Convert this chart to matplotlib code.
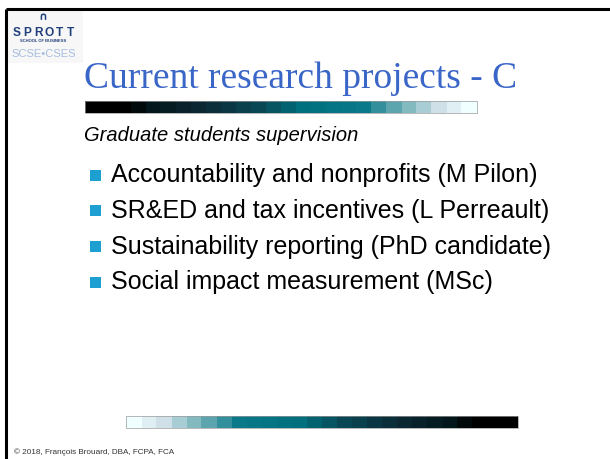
import matplotlib
matplotlib.use("Agg")
import matplotlib.pyplot as plt
import numpy as np
from matplotlib.colors import LinearSegmentedColormap
from matplotlib.patches import Rectangle

# ---- content ----
title = "Current research projects - C"
subtitle = "Graduate students supervision"
bullets = [
    "Accountability and nonprofits (M Pilon)",
    "SR&ED and tax incentives (L Perreault)",
    "Sustainability reporting (PhD candidate)",
    "Social impact measurement (MSc)",
]
footer = "\u00a9 2018, Fran\u00e7ois Brouard, DBA, FCPA, FCA"
logo_main = "SPROTT"
logo_sub = "SCHOOL OF BUSINESS"
logo_unit = "SCSE\u2022CSES"

# gradient stops (position, colour) of the decorative bar, dark -> light
bar_pos = [0.0, 0.10, 0.14, 0.30, 0.45, 0.56, 0.72, 0.78, 0.85, 0.92, 1.0]
bar_cols = ["#000000", "#000000", "#031418", "#0b2a36", "#0a4a58", "#00707f",
            "#0a7a8a", "#4a9aa5", "#8cc0c5", "#d0e0e8", "#f0ffff"]

W, H = 610, 459
fig = plt.figure(figsize=(W / 100, H / 100), dpi=100)
ax = fig.add_axes([0, 0, 1, 1])
ax.set_xlim(0, W)
ax.set_ylim(H, 0)
ax.axis("off")
fig.patch.set_facecolor("white")

# frame lines (top and left)
ax.plot([6, W], [9, 9], color="black", lw=2.2, solid_capstyle="butt")
ax.plot([6, 6], [9, H], color="black", lw=2.2, solid_capstyle="butt")

# logo
ax.add_patch(Rectangle((7.5, 10.5), 75, 52, facecolor="#f7f7f7", edgecolor="none"))
ax.text(43, 17, "\u2229", ha="center", va="center", fontsize=8, color="#1f3f7a",
        family="DejaVu Sans", fontweight="bold")
n = len(logo_main)
for i, ch in enumerate(logo_main):
    ax.text(11 + 65 / (2 * n) * (2 * i + 1), 33, ch, ha="center", va="center",
            fontsize=8.6, color="#1f3f7a", family="Liberation Sans", fontweight="bold")
ax.text(43.5, 41, logo_sub, ha="center", va="center", fontsize=3.0, color="#1f3f7a",
        family="Liberation Sans", fontweight="bold")
ax.text(43.5, 54, logo_unit, ha="center", va="center", fontsize=8.0, color="#a6bde0",
        family="Liberation Sans")

# title
ax.text(84, 88, title, ha="left", va="baseline", fontsize=27, color="#3a66c8",
        family="Liberation Serif")

# gradient bars
cmap = LinearSegmentedColormap.from_list("bar", list(zip(bar_pos, bar_cols)), N=26)
grad = np.linspace(0, 1, 400).reshape(1, -1)
ax.imshow(grad, cmap=cmap, extent=(85, 477, 113, 101), aspect="auto", interpolation="nearest")
ax.add_patch(Rectangle((85, 101), 392, 12, fill=False, edgecolor="#9a9a9a", lw=0.5))
ax.imshow(grad[:, ::-1], cmap=cmap, extent=(126, 518, 428, 416), aspect="auto", interpolation="nearest")
ax.add_patch(Rectangle((126, 416), 392, 12, fill=False, edgecolor="#9a9a9a", lw=0.5))

# subtitle
ax.text(84, 141, subtitle, ha="left", va="baseline", fontsize=14.5, style="italic",
        color="black", family="Liberation Sans")

# bullets
y0, dy = 175, 35.8
for i, b in enumerate(bullets):
    y = y0 + i * dy
    ax.add_patch(Rectangle((90, y - 5.5), 11, 11, facecolor="#1e9fd2", edgecolor="none"))
    ax.text(111, y, b, ha="left", va="center", fontsize=18, color="black",
            family="Liberation Sans")

# footer
ax.text(14, 452, footer, ha="left", va="center", fontsize=5.9, color="#333333",
        family="Liberation Sans")

fig.savefig("out.png", dpi=100)
